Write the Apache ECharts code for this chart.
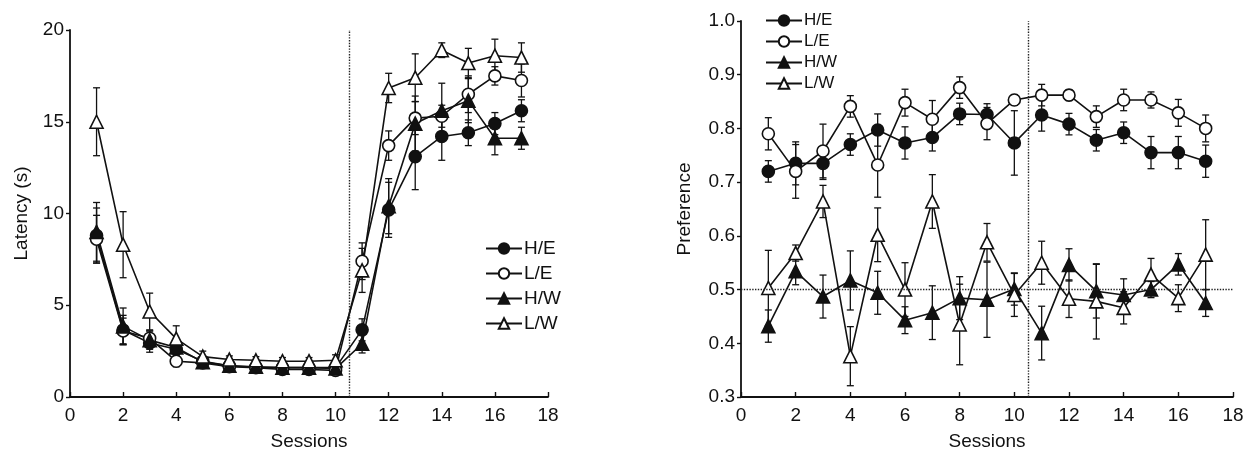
<!DOCTYPE html>
<html><head><meta charset="utf-8">
<script src="https://cdn.jsdelivr.net/npm/echarts@6/dist/echarts.min.js"></script>
<style>html,body{margin:0;padding:0;background:#fff}#c{width:1248px;height:456px}</style>
</head><body><div id="c"></div>
<script>
const sessions = [1,2,3,4,5,6,7,8,9,10,11,12,13,14,15,16,17];
const seriesNames = ['H/E','L/E','H/W','L/W'];
const xTicks = [0,2,4,6,8,10,12,14,16,18];

// Left panel: latency (s)
const latHE = [8.8,3.65,2.94,2.6,1.95,1.7,1.62,1.6,1.6,1.6,3.66,10.2,13.1,14.2,14.4,14.9,15.6];
const latLE = [8.6,3.6,3.2,1.95,1.86,1.65,1.6,1.5,1.5,1.45,7.4,13.7,15.2,15.3,16.5,17.5,17.25];
const latHW = [9.0,3.85,3.1,2.7,1.9,1.7,1.65,1.6,1.6,1.55,2.9,10.4,14.9,15.6,16.15,14.1,14.1];
const latLW = [15.0,8.3,4.66,3.18,2.2,2.04,2.0,1.95,1.95,2.0,6.9,16.84,17.4,18.9,18.2,18.6,18.5];
const latErrHE = [1.5,0.8,0.5,0.4,0.2,0.15,0.15,0.15,0.15,0.2,0.6,1.5,1.8,1.3,0.7,0.6,0.6];
const latErrLE = [1.3,0.7,0.4,0.3,0.2,0.15,0.15,0.15,0.15,0.15,1.0,0.8,0.9,0.6,1.0,0.5,0.9];
const latErrHW = [1.6,1.0,0.5,0.4,0.2,0.15,0.15,0.15,0.15,0.2,0.5,1.5,1.5,1.5,1.2,0.9,0.6];
const latErrLW = [1.85,1.8,1.0,0.7,0.3,0.2,0.2,0.2,0.2,0.3,1.2,0.8,1.3,0.4,0.8,0.9,0.8];

// Right panel: preference
const prefHE = [0.72,0.735,0.735,0.77,0.797,0.773,0.783,0.827,0.826,0.773,0.825,0.808,0.778,0.792,0.755,0.755,0.739];
const prefLE = [0.79,0.72,0.758,0.841,0.732,0.848,0.817,0.876,0.809,0.853,0.862,0.862,0.822,0.853,0.853,0.829,0.80];
const prefHW = [0.432,0.534,0.487,0.517,0.494,0.443,0.457,0.484,0.481,0.501,0.419,0.546,0.497,0.49,0.50,0.547,0.475];
const prefLW = [0.503,0.568,0.664,0.376,0.602,0.50,0.664,0.435,0.588,0.49,0.55,0.483,0.478,0.466,0.528,0.484,0.565];
const prefErrHE = [0.02,0.04,0.03,0.02,0.03,0.03,0.025,0.02,0.02,0.06,0.03,0.02,0.02,0.02,0.03,0.03,0.03];
const prefErrLE = [0.03,0.05,0.05,0.02,0.06,0.025,0.035,0.02,0.03,0.01,0.02,0.01,0.02,0.02,0.015,0.025,0.025];
const prefErrHW = [0.03,0.025,0.04,0.055,0.04,0.025,0.05,0.04,0.07,0.03,0.05,0.03,0.05,0.03,0.015,0.02,0.025];
const prefErrLW = [0.07,0.015,0.03,0.055,0.05,0.05,0.05,0.075,0.035,0.04,0.04,0.035,0.07,0.03,0.03,0.025,0.065];

const INK = '#111';
const FONT = 'Liberation Sans, Arial, sans-serif';
const styles = {
  'H/E': {symbol:'circle', fill:INK},
  'L/E': {symbol:'circle', fill:'#fff'},
  'H/W': {symbol:'triangle', fill:INK},
  'L/W': {symbol:'triangle', fill:'#fff'}
};

function lineSeries(name, vals, gi) {
  const s = styles[name];
  return {
    type:'line', name, xAxisIndex:gi, yAxisIndex:gi,
    data: sessions.map((x,i)=>[x, vals[i]]),
    symbol: s.symbol, symbolSize: s.symbol==='triangle'?13:12,
    lineStyle:{color:INK, width:1.6},
    itemStyle:{color:s.fill, borderColor:INK, borderWidth:1.6},
    emphasis:{disabled:true}, z:3, animation:false
  };
}
function errSeries(vals, errs, gi) {
  return {
    type:'custom', xAxisIndex:gi, yAxisIndex:gi, silent:true, z:2, animation:false,
    data: sessions.map((x,i)=>[x, vals[i], errs[i]]),
    renderItem: function(params, api){
      const x = api.value(0), y = api.value(1), e = api.value(2);
      const lo = api.coord([x, y-e]), hi = api.coord([x, y+e]);
      const w = 3.5;
      const st = {stroke:INK, lineWidth:1.3};
      return {type:'group', children:[
        {type:'line', shape:{x1:lo[0],y1:lo[1],x2:hi[0],y2:hi[1]}, style:st},
        {type:'line', shape:{x1:lo[0]-w,y1:lo[1],x2:lo[0]+w,y2:lo[1]}, style:st},
        {type:'line', shape:{x1:hi[0]-w,y1:hi[1],x2:hi[0]+w,y2:hi[1]}, style:st}
      ]};
    }
  };
}

const axisLine = {show:true, lineStyle:{color:INK, width:1.8}};
const labelStyle = {color:INK, fontSize:19, fontFamily:FONT};
const nameStyle = {color:INK, fontSize:19, fontFamily:FONT};

function xAxis(gi){
  return {type:'value', gridIndex:gi, min:0, max:18, interval:2,
    axisLine, axisTick:{show:true, inside:true, length:5, lineStyle:{color:INK, width:1.4}},
    axisLabel:{...labelStyle, margin:9, formatter:v=>xTicks.includes(v)?String(v):''},
    splitLine:{show:false}, name:'Sessions', nameLocation:'middle', nameGap:35, nameTextStyle:nameStyle};
}

const dotted = {type:'dotted', color:'#222', width:1.4};

const option = {
  backgroundColor:'#fff',
  animation:false,
  grid:[
    {left:70, top:30, width:478, height:369},
    {left:741, top:21, width:492, height:377}
  ],
  xAxis:[xAxis(0), xAxis(1)],
  yAxis:[
    {type:'value', gridIndex:0, min:0, max:20, interval:5, axisLine,
     axisTick:{show:true, inside:false, length:4, lineStyle:{color:INK, width:1.4}},
     axisLabel:{...labelStyle, margin:6}, splitLine:{show:false},
     name:'Latency (s)', nameLocation:'middle', nameGap:39, nameTextStyle:nameStyle},
    {type:'value', gridIndex:1, min:0.3, max:1.0, interval:0.1, axisLine,
     axisTick:{show:true, inside:false, length:4, lineStyle:{color:INK, width:1.4}},
     axisLabel:{...labelStyle, margin:6, formatter:v=>v.toFixed(1)}, splitLine:{show:false},
     name:'Preference', nameLocation:'middle', nameGap:47, nameTextStyle:nameStyle}
  ],
  legend:[
    {data:seriesNames, orient:'vertical', left:480, top:234, itemWidth:36, itemHeight:13, itemGap:6,
     textStyle:{color:INK, fontSize:19, lineHeight:19, fontFamily:FONT, padding:[0,0,0,-3]}, selectedMode:false},
    {data:seriesNames, orient:'vertical', left:760, top:7, itemWidth:36, itemHeight:13, itemGap:4,
     textStyle:{color:INK, fontSize:17, lineHeight:17, fontFamily:FONT, padding:[0,0,0,-3]}, selectedMode:false}
  ],
  series:[
    errSeries(latHE, latErrHE, 0), errSeries(latLE, latErrLE, 0),
    errSeries(latHW, latErrHW, 0), errSeries(latLW, latErrLW, 0),
    lineSeries('H/E', latHE, 0), lineSeries('L/E', latLE, 0),
    lineSeries('H/W', latHW, 0),
    Object.assign(lineSeries('L/W', latLW, 0), {markLine:{silent:true, symbol:'none', label:{show:false}, lineStyle:dotted, data:[{xAxis:10.5}]}}),
    errSeries(prefHE, prefErrHE, 1), errSeries(prefLE, prefErrLE, 1),
    errSeries(prefHW, prefErrHW, 1), errSeries(prefLW, prefErrLW, 1),
    lineSeries('H/E', prefHE, 1), lineSeries('L/E', prefLE, 1),
    lineSeries('H/W', prefHW, 1),
    Object.assign(lineSeries('L/W', prefLW, 1), {markLine:{silent:true, symbol:'none', label:{show:false}, lineStyle:dotted, data:[{xAxis:10.5},{yAxis:0.5}]}})
  ]
};
const chart = echarts.init(document.getElementById('c'), null, {renderer:'canvas'});
chart.setOption(option);
</script></body></html>
